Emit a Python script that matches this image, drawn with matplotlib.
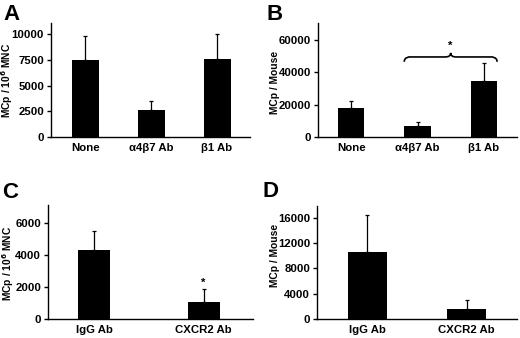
import matplotlib
matplotlib.use("Agg")
import matplotlib.pyplot as plt
from matplotlib.path import Path
from matplotlib.patches import PathPatch
import numpy as np

plt.rcParams['font.family'] = ['Liberation Sans', 'DejaVu Sans']
plt.rcParams['font.weight'] = 'bold'

# Panel A
a_cats = ["None", "\u03b14\u03b27 Ab", "\u03b21 Ab"]
a_vals = [7450, 2650, 7550]
a_errs = [2400, 850, 2500]
a_ticks = [0, 2500, 5000, 7500, 10000]

# Panel B
b_cats = ["None", "\u03b14\u03b27 Ab", "\u03b21 Ab"]
b_vals = [18000, 6500, 34500]
b_errs = [4500, 3000, 11500]
b_ticks = [0, 20000, 40000, 60000]

# Panel C
c_cats = ["IgG Ab", "CXCR2 Ab"]
c_vals = [4300, 1050]
c_errs = [1200, 800]
c_ticks = [0, 2000, 4000, 6000]

# Panel D
d_cats = ["IgG Ab", "CXCR2 Ab"]
d_vals = [10600, 1550]
d_errs = [5900, 1450]
d_ticks = [0, 4000, 8000, 12000, 16000]

W, H = 520, 338
fig = plt.figure(figsize=(W / 100, H / 100), dpi=100)
FS = 8.2
LFS = 7.4


def px_axes(l, r, t, b):
    return fig.add_axes([l / W, 1 - b / H, (r - l) / W, (b - t) / H])


def style(ax, cats, vals, errs, ticks, ylim, xlim, width, ylabel, lcoords):
    x = np.arange(len(cats))
    ax.bar(x, vals, width=width, color='black', zorder=2)
    ax.errorbar(x, vals, yerr=[np.zeros(len(vals)), errs], fmt='none',
                ecolor='black', elinewidth=0.9, capsize=1.5, capthick=0.9, zorder=1)
    ax.set_xlim(*xlim)
    ax.set_ylim(*ylim)
    ax.set_xticks(x)
    ax.set_xticklabels(cats, fontsize=FS, fontweight='bold')
    ax.set_yticks(ticks)
    ax.set_yticklabels([str(t) for t in ticks], fontsize=FS, fontweight='bold')
    ax.tick_params(axis='x', length=0, pad=4)
    ax.tick_params(axis='y', length=3, width=1, direction='out', pad=2)
    for s in ['top', 'right']:
        ax.spines[s].set_visible(False)
    for s in ['left', 'bottom']:
        ax.spines[s].set_linewidth(1.0)
    ax.set_ylabel(ylabel, fontsize=LFS, fontweight='bold')
    ax.yaxis.set_label_coords(*lcoords)


axA = px_axes(51, 250, 23, 137)
style(axA, a_cats, a_vals, a_errs, a_ticks, (0, 11100), (-0.52, 2.5), 0.41,
      r"MCp / 10$^\mathbf{6}$ MNC", (-0.18, 0.50))

axB = px_axes(318, 517, 23, 137)
style(axB, b_cats, b_vals, b_errs, b_ticks, (0, 70500), (-0.5, 2.5), 0.40,
      "MCp / Mouse", (-0.19, 0.48))

axC = px_axes(48, 253, 205, 319)
style(axC, c_cats, c_vals, c_errs, c_ticks, (0, 7100), (-0.42, 1.45), 0.29,
      r"MCp / 10$^\mathbf{6}$ MNC", (-0.158, 0.49))

axD = px_axes(317, 517, 206, 319)
style(axD, d_cats, d_vals, d_errs, d_ticks, (0, 17900), (-0.51, 1.51), 0.39,
      "MCp / Mouse", (-0.185, 0.56))

# Brace in panel B between alpha4beta7 and beta1
x0, x1 = 1 - 0.2, 2 + 0.2
xm = (x0 + x1) / 2
yb, yf, yt = 46500, 49500, 52000
dx = 0.08
verts = [(x0, yb), (x0, yf), (x0 + dx, yf), (x0 + dx, yf),
         (xm - dx, yf), (xm, yf), (xm, yt),
         (xm, yf), (xm + dx, yf),
         (x1 - dx, yf), (x1 - dx, yf), (x1, yf), (x1, yb)]
codes = [Path.MOVETO, Path.CURVE4, Path.CURVE4, Path.CURVE4,
         Path.LINETO, Path.CURVE3, Path.CURVE3,
         Path.CURVE3, Path.CURVE3,
         Path.LINETO, Path.CURVE4, Path.CURVE4, Path.CURVE4]
axB.add_patch(PathPatch(Path(verts, codes), fill=False, lw=1.2, color='black'))
axB.text(xm, 53000, "*", ha='center', va='bottom', fontsize=8, fontweight='bold')

# Star in panel C
axC.text(1, c_vals[1] + c_errs[1] + 100, "*", ha='center', va='bottom',
         fontsize=8, fontweight='bold')

# Panel letters
for lx, ly, t in [(3, 4, "A"), (266, 4, "B"), (2, 182, "C"), (263, 181, "D")]:
    fig.text(lx / W, 1 - ly / H, t, fontsize=16, fontweight='bold', ha='left', va='top')

fig.savefig("out.png", dpi=100)
